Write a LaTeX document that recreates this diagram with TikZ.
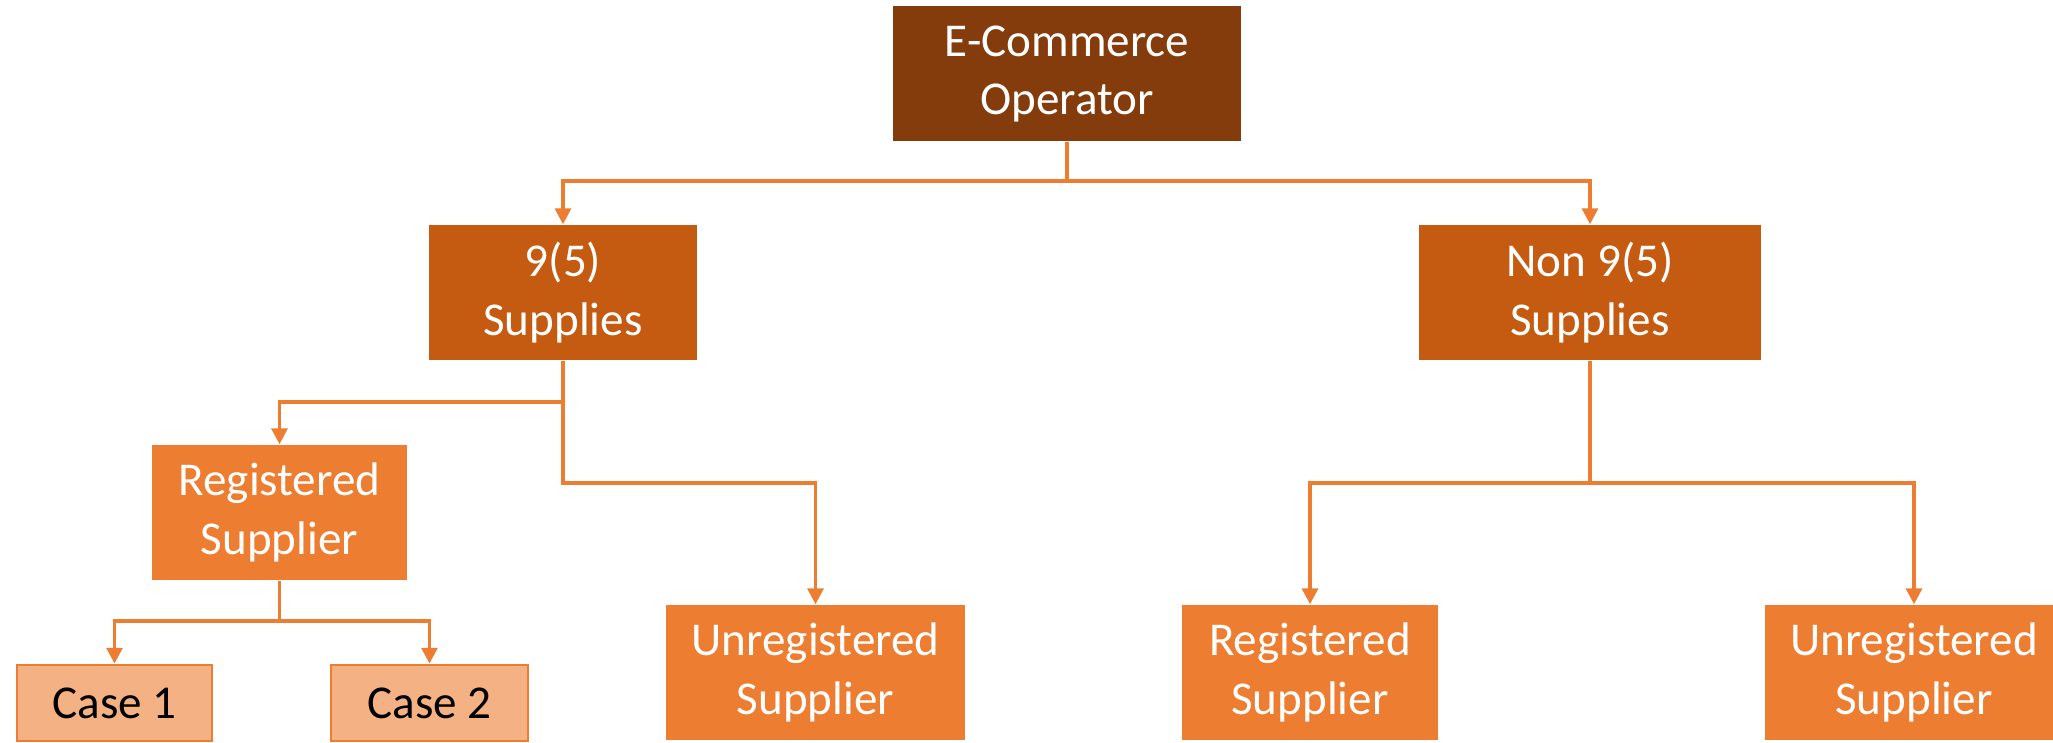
\documentclass[tikz,border=0pt]{standalone}
\usepackage{fontspec}
\setmainfont{Carlito}
\usetikzlibrary{arrows.meta}
\definecolor{topbrown}{HTML}{843C0C}
\definecolor{midbrown}{HTML}{C55A11}
\definecolor{lineorange}{HTML}{ED7D31}
\definecolor{casepeach}{HTML}{F4B183}
\begin{document}
\begin{tikzpicture}[
		box/.style={rectangle, inner sep=0pt, align=center, text=white, minimum height=1.35cm, font=\fontsize{13.4}{16.6}\selectfont},
		link/.style={draw=lineorange, line width=0.95pt, -{Triangle[width=4.5pt,length=4.5pt]}}]
		\clip (0,0) rectangle (20.53,-7.43);
		\node[box, fill=topbrown, minimum width=3.48cm] (eco) at (10.67,-0.74) {E-Commerce\\Operator};
		\node[box, fill=midbrown, minimum width=2.68cm] (s95) at (5.63,-2.925) {9(5)\\Supplies};
		\node[box, fill=midbrown, minimum width=3.42cm] (ns95) at (15.90,-2.925) {Non 9(5)\\Supplies};
		\node[box, fill=lineorange, minimum width=2.55cm] (reg95) at (2.795,-5.125) {Registered\\Supplier};
		\node[box, fill=lineorange, minimum width=2.99cm] (unreg95) at (8.155,-6.725) {Unregistered\\Supplier};
		\node[box, fill=lineorange, minimum width=2.56cm] (regns) at (13.10,-6.725) {Registered\\Supplier};
		\node[box, fill=lineorange, minimum width=2.99cm] (unregns) at (19.14,-6.725) {Unregistered\\Supplier};
		\node[box, fill=casepeach, draw=lineorange, line width=0.8pt, text=black, minimum width=1.95cm, minimum height=0.76cm] (caseA) at (1.145,-7.03) {Case 1};
		\node[box, fill=casepeach, draw=lineorange, line width=0.8pt, text=black, minimum width=1.97cm, minimum height=0.76cm] (caseB) at (4.295,-7.03) {Case 2};
		\coordinate (jtop) at (10.67,-1.81);
		\coordinate (jreg) at (5.63,-4.02);
		\coordinate (junreg) at (5.63,-4.83);
		\coordinate (jns) at (15.90,-4.83);
		\coordinate (jcase) at (2.795,-6.21);
		\draw[link] (eco) -- (jtop) -| (s95);
		\draw[link] (jtop) -| (ns95);
		\draw[link] (s95) -- (jreg) -| (reg95);
		\draw[link] (jreg) -- (junreg) -| (unreg95);
		\draw[link] (ns95) -- (jns) -| (regns);
		\draw[link] (jns) -| (unregns);
		\draw[link] (reg95) -- (jcase) -| (caseA);
		\draw[link] (jcase) -| (caseB);
	\end{tikzpicture}
\end{document}
